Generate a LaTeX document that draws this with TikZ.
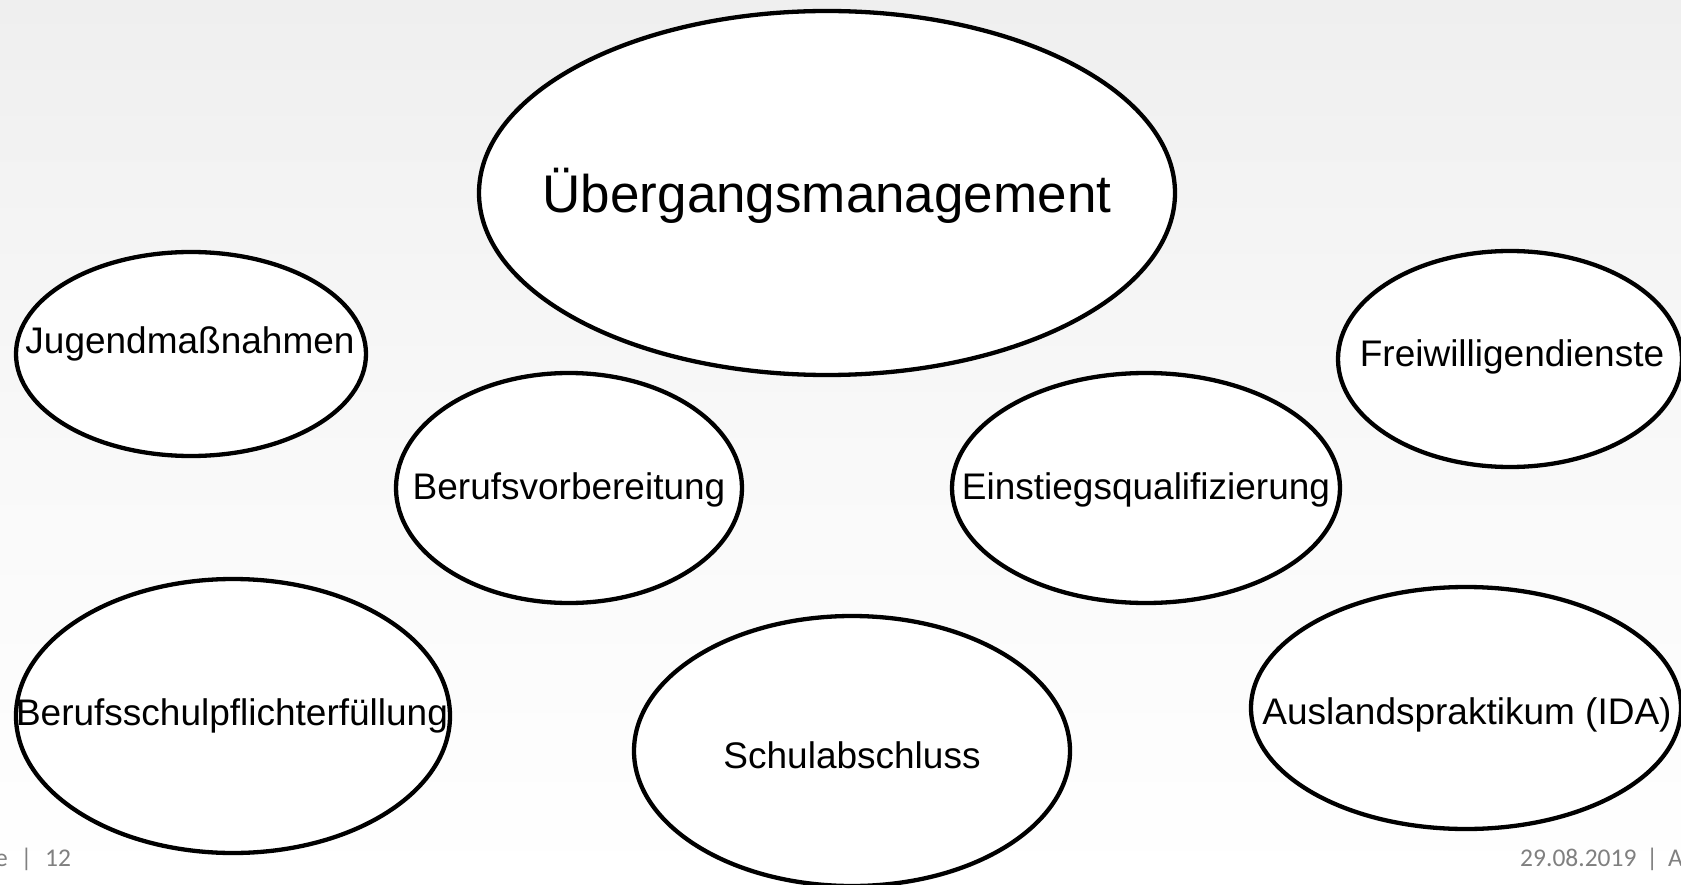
\documentclass[tikz,border=0pt]{standalone}
\usepackage{fontspec}
\setmainfont{Liberation Sans}
\newfontfamily\footfont{Carlito}
\usetikzlibrary{shapes.geometric}
\definecolor{bgtop}{RGB}{239,239,239}
\definecolor{foot}{RGB}{128,128,128}
\tikzset{
  oval/.style={ellipse, draw=black, fill=white, line width=4.3pt, inner sep=0pt},
  txt/.style={inner sep=0pt, font=\fontsize{37}{44}\selectfont},
  bigtxt/.style={inner sep=0pt, font=\fontsize{53}{64}\selectfont},
  foottxt/.style={inner sep=0pt, anchor=base, text=foot, font=\footfont\fontsize{25.5}{30}\selectfont}
}
\begin{document}
\begin{tikzpicture}[x=1pt,y=-1pt]
\useasboundingbox (0,0) rectangle (1681,885);
\shade[top color=bgtop, bottom color=white, middle color={bgtop!40!white}] (0,0) rectangle (1681,885);
% footers
\node[foottxt, anchor=base west] (fl) at (-5,866) {e\enspace|\enspace12};
\node[foottxt, anchor=base west] (fr) at (1520,866) {29.08.2019\hspace{10pt}|\hspace{10pt}A};
% ellipses
\node[oval, minimum width=696pt, minimum height=364pt] (ue) at (827,193) {};
\node[bigtxt] (uet) at (827,196) {Übergangsmanagement};
\node[oval, minimum width=350pt, minimum height=204pt] (jm) at (191,354) {};
\node[txt] (jmt) at (190,344) {Jugendmaßnahmen};
\node[oval, minimum width=344pt, minimum height=216pt] (fw) at (1510,359) {};
\node[txt] (fwt) at (1512,357) {Freiwilligendienste};
\node[oval, minimum width=346pt, minimum height=230pt] (bv) at (569,488) {};
\node[txt] (bvt) at (569,490) {Berufsvorbereitung};
\node[oval, minimum width=388pt, minimum height=230pt] (eq) at (1146,488) {};
\node[txt] (eqt) at (1146,490) {Einstiegsqualifizierung};
\node[oval, minimum width=434pt, minimum height=274pt] (bs) at (233,716) {};
\node[txt] (bst) at (232,716) {Berufsschulpflichterfüllung};
\node[oval, minimum width=436pt, minimum height=270pt] (sa) at (852,751) {};
\node[txt] (sat) at (852,755) {Schulabschluss};
\node[oval, minimum width=430pt, minimum height=242pt] (ap) at (1466,708) {};
\node[txt] (apt) at (1467,715) {Auslandspraktikum (IDA)};
\end{tikzpicture}
\end{document}
